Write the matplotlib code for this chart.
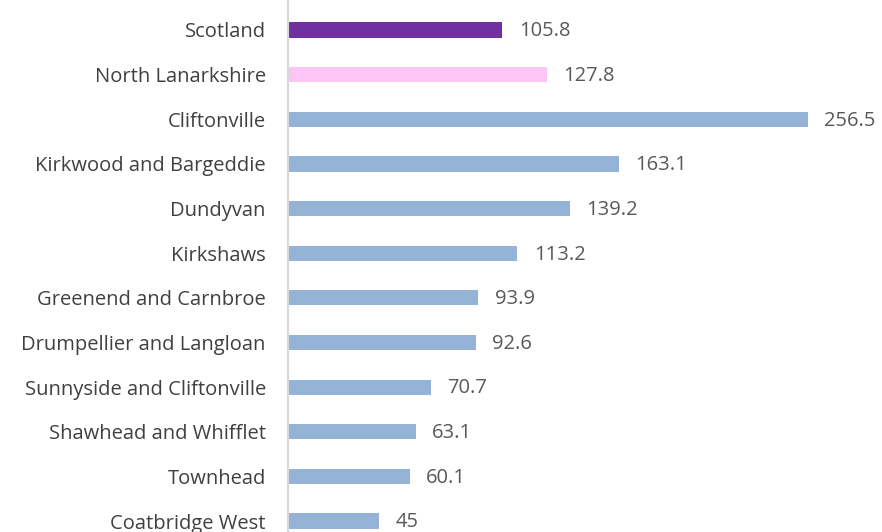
import matplotlib.pyplot as plt

areas = [
    'Scotland',
    'North Lanarkshire',
    'Cliftonville',
    'Kirkwood and Bargeddie',
    'Dundyvan',
    'Kirkshaws',
    'Greenend and Carnbroe',
    'Drumpellier and Langloan',
    'Sunnyside and Cliftonville',
    'Shawhead and Whifflet',
    'Townhead',
    'Coatbridge West',
]
values = [105.8, 127.8, 256.5, 163.1, 139.2, 113.2, 93.9, 92.6, 70.7, 63.1, 60.1, 45]
value_labels = ['105.8', '127.8', '256.5', '163.1', '139.2', '113.2', '93.9', '92.6',
                '70.7', '63.1', '60.1', '45']

colors = ['#7030A0', '#FCC5F3'] + ['#95B3D7'] * (len(areas) - 2)

plt.rcParams['font.family'] = ['Open Sans', 'DejaVu Sans']

fig = plt.figure(figsize=(8.82, 5.32), dpi=100)
ax = fig.add_axes([288 / 882, 0, 1 - 288 / 882, 1])

pos = list(range(len(areas)))
ax.barh(pos, values, height=0.34, color=colors)

for y, v, s in zip(pos, values, value_labels):
    ax.text(v + 8, y + 0.03, s, va='center', ha='left', fontsize=14.5, color='#595959')

ax.set_xlim(0, 293)
ax.set_ylim(11.245, -0.672)
ax.set_yticks(pos)
ax.set_yticklabels(areas, fontsize=14.5, color='#404040')
ax.tick_params(axis='y', length=0, pad=16)
ax.set_xticks([])

for side in ['top', 'right', 'bottom']:
    ax.spines[side].set_visible(False)
ax.spines['left'].set_color('#D9D9D9')
ax.spines['left'].set_linewidth(1.5)

fig.savefig('out.png', dpi=100)
